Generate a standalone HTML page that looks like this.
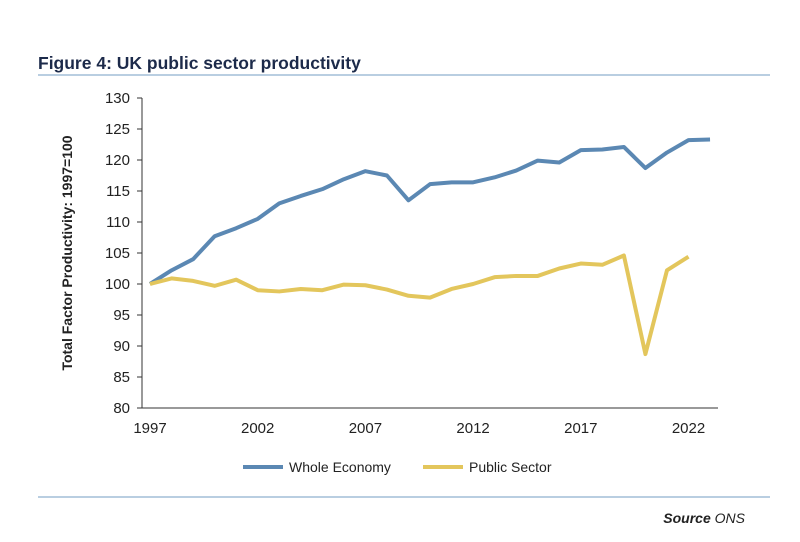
<!DOCTYPE html>
<html><head><meta charset="utf-8"><style>
body{margin:0;background:#fff;font-family:"Liberation Sans",sans-serif;}
svg text{font-family:"Liberation Sans",sans-serif;}
</style></head><body>
<svg width="800" height="537" viewBox="0 0 800 537">
<text x="38" y="69" font-size="17.5" font-weight="bold" fill="#1c2a4a">Figure 4: UK public sector productivity</text>
<line x1="38" y1="75" x2="770" y2="75" stroke="#8fb0cf" stroke-width="1.2"/>
<line x1="38" y1="497" x2="770" y2="497" stroke="#8fb0cf" stroke-width="1.2"/>
<text x="745" y="523" font-size="14" font-style="italic" text-anchor="end" fill="#222"><tspan font-weight="bold">Source</tspan> ONS</text>
<text transform="translate(72,253) rotate(-90)" font-size="14" font-weight="bold" text-anchor="middle" fill="#222">Total Factor Productivity: 1997=100</text>
<g id="axes"></g>
<g id="series"></g>
<g>
<line x1="243" y1="467" x2="283" y2="467" stroke="#5b88b3" stroke-width="4"/>
<text x="289" y="472" font-size="14" fill="#222">Whole Economy</text>
<line x1="423" y1="467" x2="463" y2="467" stroke="#e3c65c" stroke-width="4"/>
<text x="469" y="472" font-size="14" fill="#222">Public Sector</text>
</g>
</svg>
<script>
const years=[1997,1998,1999,2000,2001,2002,2003,2004,2005,2006,2007,2008,2009,2010,2011,2012,2013,2014,2015,2016,2017,2018,2019,2020,2021,2022,2023];
const wholeEconomy=[100,102.2,104,107.7,109,110.5,113,114.2,115.3,116.9,118.2,117.5,113.5,116.1,116.4,116.4,117.2,118.3,119.9,119.6,121.6,121.7,122.1,118.7,121.2,123.2,123.3];
const publicSector=[100,100.9,100.5,99.7,100.7,99.0,98.8,99.2,99.0,99.9,99.8,99.1,98.1,97.8,99.2,100.0,101.1,101.3,101.3,102.5,103.3,103.1,104.6,88.7,102.2,104.4];
const yTicks=[80,85,90,95,100,105,110,115,120,125,130];
const xTicks=[1997,2002,2007,2012,2017,2022];
const NS='http://www.w3.org/2000/svg';
const x=yr=>150+(yr-1997)*21.54;
const y=v=>408-(v-80)*6.2;
const axes=document.getElementById('axes'),series=document.getElementById('series');
function mk(tag,attrs,parent){const e=document.createElementNS(NS,tag);for(const k in attrs)e.setAttribute(k,attrs[k]);parent.appendChild(e);return e;}
const ya=mk('line',{x1:142,y1:y(130),x2:142,y2:408,stroke:'#333','stroke-width':1},axes);


const xa=mk('line',{x1:142,y1:408,x2:718,y2:408,stroke:'#333','stroke-width':1},axes);


yTicks.forEach(v=>{
 const t=mk('line',{x1:137,y1:y(v),x2:142,y2:y(v),stroke:'#333'},axes);
 
 
 const l=mk('text',{x:130,y:y(v)+5,'font-size':15,'text-anchor':'end',fill:'#222'},axes);
 l.textContent=v;
 
 
});
xTicks.forEach(v=>{
 const l=mk('text',{x:x(v),y:433,'font-size':15,'text-anchor':'middle',fill:'#222'},axes);
 l.textContent=v;
 
 
});
function line(vals,color,name){
 const p=vals.map((v,i)=>x(years[i])+','+y(v)).join(' ');
 const e=mk('polyline',{points:p,fill:'none',stroke:color,'stroke-width':4,'stroke-linejoin':'round'},series);
 
 
}
line(wholeEconomy,'#5b88b3','line-whole-economy');
line(publicSector,'#e3c65c','line-public-sector');
</script>
</body></html>
